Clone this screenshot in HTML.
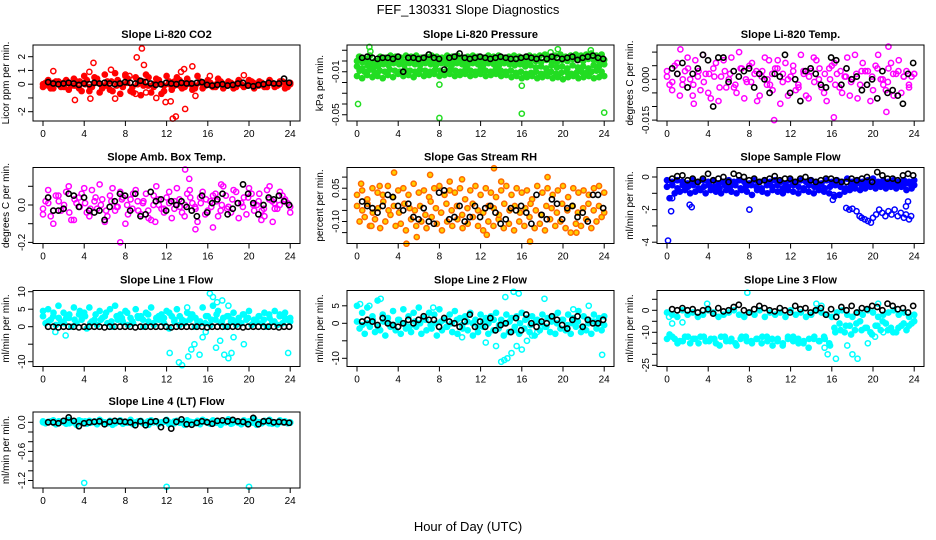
<!DOCTYPE html>
<html><head><meta charset="utf-8"><style>
body{margin:0;background:#fff}
svg{display:block;font-family:"Liberation Sans",sans-serif}
</style></head><body>
<svg id="chart" width="936" height="540" viewBox="0 0 936 540" xmlns="http://www.w3.org/2000/svg">
<rect width="936" height="540" fill="#fff"/>
<text x="468" y="14" text-anchor="middle" font-size="13">FEF_130331  Slope Diagnostics</text>
<text x="468" y="531" text-anchor="middle" font-size="13">Hour of Day (UTC)</text>
</svg>
<script>
// ---- shared x ticks ----
const xTicks = [0,4,8,12,16,20,24];

// ---- Panel 1: CO2 ----
const co2BandA = [-0.2,0.3,-0.3,0.2,0.1,-0.4,0.4,-0.3,0.6,-0.5,0.5,-0.6,0.7,-0.4,0.8,-0.7,0.6,-0.5,0.5,-0.8,0.7,-0.6,0.4,-0.7,0.6,-0.4,0.5,-0.3,0.4,-0.4,0.6,-0.3,0.3,-0.2,0.4,-0.3,0.2,-0.3,0.3,-0.2,0.3,-0.3,0.2,-0.2,0.3,-0.2,0.2,-0.3,0.1];
const co2BandB = [0.1,-0.3,0.2,-0.2,0.3,-0.1,0.2,-0.5,0.3,-0.2,0.4,-0.3,0.2,-0.5,0.3,-0.2,0.4,-0.6,0.3,-0.1,0.5,-0.2,0.3,-0.5,0.2,-0.1,0.3,-0.2,0.1,-0.3,0.2,-0.1,0.1,-0.2,0.2,-0.1,0.1,-0.2,0.0,-0.1,0.2,-0.1,0.1,-0.2,0.1,-0.1,0.2,-0.2];
const co2BandC = [0.0,-0.1,0.1,0.0,-0.2,0.1,-0.1,0.2,0.0,-0.2,0.1,0.0,-0.1,0.2,-0.1,0.0,0.1,-0.2,0.0,0.2,-0.1,0.0,0.1,-0.1,0.0,0.2,-0.1,0.1,0.0,-0.1,0.1,0.0,-0.1,0.0,0.1,-0.1,0.0,0.1,-0.1,0.0,0.1,-0.1,0.0,0.1,-0.1,0.0,0.1,0.0];
const co2Out = [[1,0.95],[3.1,-1.15],[4.5,0.9],[4.6,-1.05],[4.9,1.55],[6.6,1.05],[7,-1.05],[8.4,0.6],[9.1,1.95],[9.6,2.6],[9.8,1.4],[11,-1],[11.9,-1.3],[12.4,-1.25],[12.6,-2.5],[12.9,-2.35],[13.4,0.9],[13.7,1.1],[13.8,-1.8],[14.5,1.3],[14.8,-0.85],[16.2,0.6],[19.5,0.65],[9,-0.7],[10,-0.6],[8,0.7]];
const co2Ref = [0.15,0.05,0.0,0.05,0.1,0.05,-0.05,0.05,0.0,0.1,0.05,0.1,0.05,0.0,0.05,0.15,0.1,0.05,0.25,0.15,0.05,-0.05,0.0,0.1,0.05,0.0,0.1,0.05,0.05,0.1,0.15,-0.05,-0.1,-0.05,0.0,-0.1,-0.05,0.05,0.1,-0.1,-0.15,-0.05,0.0,0.1,0.05,0.05,0.4,0.1];

// ---- Panel 2: Pressure ----
const presBandA = [-0.014,-0.016,-0.013,-0.015,-0.014,-0.016,-0.013,-0.015,-0.012,-0.014,-0.013,-0.015,-0.012,-0.014,-0.013,-0.012,-0.014,-0.013,-0.012,-0.014,-0.013,-0.012,-0.014,-0.013,-0.012,-0.014,-0.013,-0.012,-0.014,-0.013,-0.015,-0.014,-0.016,-0.015,-0.014,-0.016,-0.015,-0.014,-0.016,-0.015,-0.017,-0.015,-0.014,-0.016,-0.015,-0.014,-0.016,-0.015,-0.014];
const presBandB = [0.004,0.002,0.005,0.000,0.004,0.003,0.005,0.004,0.003,0.005,0.004,0.005,0.003,0.004,0.005,0.004,0.003,0.005,0.004,0.005,0.003,0.004,0.005,0.004,0.003,0.005,0.004,0.005,0.003,0.004,0.005,0.004,0.003,0.005,0.004,0.005,0.006,0.004,0.005,0.006,0.004,0.005,0.006,0.005,0.006,0.007,0.005,0.006];
const presBandC = [-0.005,-0.007,-0.004,-0.006,-0.005,-0.003,-0.004,-0.002,-0.003,-0.004,-0.002,-0.003,-0.004,-0.002,-0.003,-0.004,-0.002,-0.003,-0.004,-0.002,-0.003,-0.004,-0.002,-0.003,-0.004,-0.002,-0.003,-0.004,-0.002,-0.003,-0.004,-0.003,-0.005,-0.004,-0.006,-0.005,-0.007,-0.004,-0.006,-0.005,-0.007,-0.004,-0.006,-0.005,-0.007,-0.004,-0.005,-0.003];
const presBandD = [-0.009,-0.010,-0.008,-0.011,-0.009,-0.010,-0.008,-0.009,-0.010,-0.008,-0.009,-0.010,-0.008,-0.009,-0.010,-0.008,-0.009,-0.010,-0.008,-0.009,-0.010,-0.008,-0.009,-0.010,-0.008,-0.009,-0.010,-0.008,-0.009,-0.010,-0.009,-0.011,-0.010,-0.012,-0.011,-0.010,-0.012,-0.011,-0.010,-0.012,-0.011,-0.010,-0.012,-0.011,-0.010,-0.011,-0.010,-0.009,-0.010];
const presBandE = [0.000,-0.001,0.001,-0.002,0.000,0.001,-0.001,0.000,0.001,-0.001,0.000,0.001,-0.001,0.000,0.001,-0.001,0.000,0.001,-0.001,0.000,0.001,-0.001,0.000,0.001,-0.001,0.000,0.001,-0.001,0.000,0.001,-0.001,0.000,-0.001,0.001,0.000,-0.001,0.001,0.000,-0.001,0.001,0.000,0.002,0.001,0.000,0.002,0.001,0.000,0.001];
const presOut = [[0.1,-0.04],[8,-0.022],[8,-0.053],[16,-0.049],[16,-0.023],[24,-0.048],[1.2,0.013],[1.3,0.009],[0.2,0.004],[2,-0.009],[18.8,0.008],[19.5,0.011],[22.7,0.01]];
const presRef = [0.003,0.004,0.003,0.002,0.003,0.003,0.002,0.004,-0.010,0.003,0.003,0.002,0.003,0.006,0.003,0.002,-0.008,0.003,0.004,0.007,0.003,0.002,0.003,0.004,0.003,0.002,0.003,0.004,0.003,0.002,0.002,0.003,0.004,0.003,0.002,0.003,0.002,0.004,0.003,0.002,0.003,0.004,0.001,0.003,0.004,0.005,0.003,0.002];

// ---- Panel 3: Li-820 Temp ----
const tempBandA = [0.003,-0.004,0.006,-0.002,0.008,-0.006,0.001,0.009,-0.005,0.004,-0.008,0.007,0.000,-0.003,0.010,-0.007,0.005,0.002,-0.006,0.008,-0.002,0.004,-0.009,0.006,0.001,-0.004,0.009,-0.006,0.003,0.007,-0.003,-0.008,0.005,0.002,-0.005,0.008,0.000,-0.007,0.006,0.003,-0.004,0.009,-0.002,0.004,-0.006,0.007,0.001,-0.003,0.002];
const tempBandB = [-0.002,0.005,-0.006,0.003,0.000,0.007,-0.004,0.002,-0.007,0.006,0.001,-0.003,0.008,-0.005,0.004,-0.001,0.006,-0.008,0.003,0.000,-0.004,0.007,0.002,-0.006,0.005,-0.002,0.003,-0.007,0.008,0.000,-0.005,0.004,0.006,-0.003,0.001,-0.006,0.009,-0.002,0.003,-0.008,0.005,0.000,-0.004,0.006,0.002,-0.005,0.003,0.001];
const tempBandC = [0.001,-0.001,0.002,0.000,0.004,-0.002,0.003,-0.001,0.002,0.001,-0.003,0.003,0.002,-0.002,0.004,0.000,-0.001,0.003,0.001,-0.002,0.002,0.004,-0.001,0.000,0.003,-0.003,0.002,0.001,-0.001,0.004,0.002,0.000,-0.002,0.003,0.001,-0.001,0.002,0.003,-0.002,0.001,0.004,0.000,-0.001,0.002,0.003,0.001,-0.002,0.002];
const tempOut = [[1.3,0.011],[10.4,-0.015],[16.2,-0.014],[21.5,0.012],[21.3,-0.012],[2.6,-0.009],[9.9,0.007]];
const tempRef = [0.004,0.002,0.006,-0.003,0.002,0.004,0.009,0.007,-0.010,0.008,0.008,-0.001,0.003,0.001,0.003,0.004,-0.003,0.002,0.000,-0.005,0.002,0.001,0.009,-0.005,0.000,-0.008,0.003,0.004,0.002,-0.002,-0.003,0.008,0.007,-0.002,0.004,0.000,0.001,-0.004,-0.002,0.000,-0.007,0.003,-0.005,-0.004,-0.006,-0.009,0.002,0.006];

// ---- Panel 4: Amb. Box Temp ----
const ambBandA = [-0.05,0.08,-0.1,0.05,-0.02,0.1,-0.08,0.04,0.09,-0.06,0.02,0.11,-0.09,0.05,-0.03,0.07,-0.1,0.03,0.08,-0.05,0.06,-0.08,0.1,-0.02,0.04,-0.07,0.09,-0.04,0.06,0.01,-0.09,0.07,-0.03,0.05,-0.06,0.1,-0.01,0.08,-0.07,0.04,0.09,-0.03,0.06,-0.06,0.1,-0.02,0.07,0.03,-0.04];
const ambBandB = [0.02,-0.06,0.05,-0.03,0.07,-0.08,0.01,0.06,-0.04,0.08,-0.02,0.03,-0.06,0.09,-0.01,0.04,-0.05,0.06,-0.03,0.02,-0.07,0.05,0.00,-0.04,0.07,-0.02,0.03,-0.06,0.08,-0.01,0.04,-0.05,0.02,0.06,-0.03,0.05,-0.04,0.07,0.01,-0.05,0.06,0.00,-0.03,0.08,0.02,-0.02,0.05,0.01];
const ambBandC = [-0.02,0.01,-0.03,0.02,0.00,-0.04,0.03,-0.01,0.01,-0.02,0.04,0.00,-0.03,0.02,-0.01,0.03,0.00,-0.02,0.02,0.01,-0.03,0.00,0.03,-0.02,0.01,0.02,-0.01,0.00,0.04,-0.02,0.01,0.03,-0.01,0.02,0.00,-0.02,0.03,0.01,-0.01,0.04,0.00,0.02,-0.02,0.03,0.01,0.00,0.02,-0.01];
const ambOut = [[7.5,-0.2],[13.8,0.19],[14.2,0.14],[14.8,-0.13],[16.5,-0.12],[10.9,-0.09],[17.3,0.11],[21.2,-0.08],[22.3,-0.09]];
const ambRef = [0.04,-0.03,-0.03,-0.02,0.06,0.05,-0.01,0.04,-0.03,-0.04,-0.03,-0.08,-0.01,0.02,0.06,0.05,-0.03,0.06,-0.06,-0.05,0.07,0.02,0.03,-0.03,0.02,0.00,0.02,-0.01,-0.03,-0.06,0.05,-0.04,0.01,0.03,0.06,-0.05,-0.02,0.01,0.11,0.06,0.01,-0.05,0.00,0.04,0.03,0.05,0.02,0.00];

// ---- Panel 5: Gas Stream RH ----
const rhBandA = [0.02,0.04,0.0,0.05,0.03,0.02,0.06,0.01,0.04,0.05,0.02,0.07,0.03,0.04,0.01,0.05,0.06,0.02,0.04,0.03,0.05,0.0,0.04,0.06,0.02,0.05,0.03,0.01,0.04,0.06,0.02,0.05,0.03,0.04,0.00,0.06,0.03,0.05,0.02,0.04,0.06,0.01,0.05,0.03,0.04,0.02,0.05,0.06,0.03];
const rhBandB = [-0.1,-0.08,-0.12,-0.09,-0.13,-0.1,-0.07,-0.12,-0.11,-0.14,-0.09,-0.12,-0.1,-0.13,-0.08,-0.11,-0.14,-0.1,-0.12,-0.09,-0.13,-0.11,-0.08,-0.12,-0.14,-0.1,-0.12,-0.09,-0.13,-0.11,-0.14,-0.1,-0.12,-0.08,-0.13,-0.11,-0.14,-0.09,-0.12,-0.1,-0.13,-0.15,-0.11,-0.12,-0.09,-0.13,-0.1,-0.08];
const rhBandC = [-0.03,-0.05,-0.02,-0.06,-0.04,-0.01,-0.05,-0.03,-0.06,-0.02,-0.04,-0.05,-0.03,-0.07,-0.01,-0.04,-0.06,-0.02,-0.05,-0.03,-0.07,-0.04,-0.02,-0.05,-0.06,-0.03,-0.04,-0.07,-0.02,-0.05,-0.03,-0.06,-0.04,-0.02,-0.05,-0.07,-0.03,-0.04,-0.06,-0.02,-0.05,-0.03,-0.06,-0.04,-0.02,-0.05,-0.03,-0.06];
const rhOut = [[0.4,0.07],[1.4,-0.12],[2.2,0.06],[3.6,0.12],[4.8,-0.2],[5.8,-0.17],[7.1,0.11],[9,0.08],[10.2,0.09],[13.3,0.14],[14,0.08],[16.8,-0.19],[18.5,0.1],[12.6,-0.16],[21.3,-0.15]];
const rhRef = [-0.01,-0.03,-0.04,-0.06,-0.03,0.02,0.01,-0.03,-0.05,-0.02,-0.08,-0.09,-0.04,-0.10,-0.11,0.03,0.04,-0.09,-0.08,-0.03,-0.10,-0.08,-0.03,-0.08,-0.04,-0.03,-0.06,-0.11,-0.09,-0.04,-0.05,-0.03,-0.06,-0.11,0.02,-0.07,-0.09,0.00,-0.02,-0.09,-0.04,-0.03,-0.08,-0.06,-0.10,0.02,0.02,-0.04];

// ---- Panel 6: Sample Flow ----
const sfBandA = [-0.2,-0.3,-0.2,-0.3,-0.4,-0.2,-0.3,-0.2,-0.3,-0.2,-0.4,-0.3,-0.2,-0.3,-0.2,-0.3,-0.4,-0.2,-0.3,-0.2,-0.3,-0.2,-0.3,-0.4,-0.2,-0.3,-0.2,-0.3,-0.2,-0.3,-0.4,-0.2,-0.3,-0.2,-0.3,-0.1,-0.3,-0.2,-0.3,-0.2,-0.1,-0.3,-0.2,-0.3,-0.2,-0.3,-0.2,-0.3,-0.2];
const sfBandB = [-1.3,-1.0,-0.9,-0.8,-1.0,-0.9,-0.8,-1.0,-0.8,-0.9,-1.0,-0.8,-0.9,-1.0,-0.8,-0.9,-1.1,-0.8,-0.9,-1.0,-0.8,-0.9,-1.0,-0.8,-0.9,-1.0,-0.8,-0.9,-1.0,-0.8,-0.9,-1.0,-1.2,-1.1,-0.9,-0.8,-0.7,-0.8,-0.7,-0.6,-0.7,-0.6,-0.7,-0.6,-0.7,-0.6,-0.8,-0.7];
const sfBandC = [-0.6,-0.5,-0.7,-0.5,-0.6,-0.5,-0.7,-0.6,-0.5,-0.6,-0.7,-0.5,-0.6,-0.5,-0.7,-0.6,-0.5,-0.6,-0.7,-0.5,-0.6,-0.5,-0.7,-0.6,-0.5,-0.6,-0.7,-0.5,-0.6,-0.5,-0.7,-0.6,-0.5,-0.6,-0.7,-0.5,-0.4,-0.5,-0.4,-0.5,-0.4,-0.5,-0.4,-0.5,-0.4,-0.5,-0.4,-0.5];
const sfOut = [[0.1,-3.9],[0.4,-2.1],[0.5,-1.3],[2.2,-1.7],[2.4,-1.85],[8,-2.0],[16.1,-1.4],[16.2,-1.1],[17.4,-1.9],[17.7,-2.0],[18,-1.95],[18.4,-2.1],[18.7,-2.4],[18.9,-2.5],[19.2,-2.6],[19.5,-2.7],[19.8,-2.8],[20,-2.5],[20.3,-2.3],[20.6,-2.0],[20.9,-2.2],[21.2,-2.4],[21.5,-2.1],[21.8,-2.3],[22.1,-2.0],[22.4,-2.4],[22.7,-2.2],[23,-2.5],[23.2,-2.3],[23.5,-2.6],[23.7,-2.4],[23.4,-1.5],[23.2,-1.8]];
const sfRef = [-0.1,0.05,0.1,-0.2,-0.1,-0.3,-0.1,0.2,-0.2,-0.1,0.0,-0.3,0.2,0.1,0.0,-0.2,-0.1,-0.3,-0.2,-0.1,0.05,-0.2,-0.1,-0.1,-0.3,-0.1,0.0,-0.2,-0.3,-0.2,-0.1,-0.1,-0.2,-0.3,-0.3,-0.1,-0.2,-0.1,0.0,-0.3,0.3,0.1,-0.1,-0.1,-0.2,0.1,0.2,0.1];

// ---- Panel 7: Line 1 Flow ----
const l1BandA = [4.5,5.0,3.0,6.0,4.0,2.5,5.5,3.5,4.0,5.5,2.0,4.5,3.0,5.0,6.0,3.5,4.5,2.5,5.0,3.0,4.0,5.5,2.5,3.5,4.5,3.0,5.0,2.0,4.0,3.5,1.5,5.5,3.0,6.0,4.5,2.5,3.0,4.0,2.5,3.5,4.5,2.0,3.0,4.0,2.5,4.5,3.5,4.0,2.5];
const l1BandB = [1.0,2.0,0.5,1.5,2.5,0.0,1.0,2.0,-0.5,1.5,0.5,2.5,1.0,0.0,2.0,1.5,0.5,1.0,2.5,0.0,1.5,0.5,2.0,1.0,-0.5,1.5,0.5,1.0,2.0,0.0,1.5,1.0,0.5,2.0,1.0,0.0,1.5,0.5,1.0,2.0,0.5,1.5,1.0,0.0,1.5,0.5,1.0,2.0];
const l1BandC = [3.0,1.5,4.0,2.5,1.0,3.5,2.0,4.5,3.0,1.0,3.5,2.0,4.0,1.5,3.0,2.5,4.0,1.5,3.0,2.0,3.5,1.0,3.0,2.5,4.0,2.0,3.0,1.5,3.5,2.5,1.0,3.0,2.0,3.5,1.5,3.0,2.0,1.5,3.5,2.5,1.0,3.0,2.0,3.5,1.5,3.0,2.5,1.5];
const l1Out = [[2.2,-2.5],[1.2,-1.5],[12.3,-7.5],[13.2,-10.2],[13.5,-11],[14.1,-8.5],[14.4,-6.5],[14,5.5],[14.7,-5],[15.2,-8],[15.5,-3],[16.2,9.5],[16.5,8.5],[16.9,7],[17.2,-4],[17.6,-8],[18,-9],[18.3,-7.5],[18.5,-3],[19.5,-5],[17.4,7.5],[18,6],[23.8,-7.5],[15.8,-1.5],[16.8,-6]];
const l1Ref = [0,0,-0.2,0,0,0,-0.2,0,0,0,0,-0.2,0,0,0,0,0,-0.2,0,0,0,0,0,0,-0.2,0,0,0,0,0,0,-0.2,0,0,0,0,0,0,-0.2,0,0,0,0,0,0,-0.2,0,0];

// ---- Panel 8: Line 2 Flow ----
const l2BandA = [5.0,3.0,4.5,2.0,6.5,2.5,1.5,3.5,1.0,4.0,2.0,3.0,4.5,1.5,3.0,2.5,4.0,1.0,2.5,3.5,1.5,2.0,3.0,1.0,2.5,1.5,2.0,3.0,1.0,2.5,1.5,2.0,3.0,1.5,2.0,1.0,2.5,1.5,2.0,3.0,1.0,2.5,1.5,3.5,2.0,1.0,2.5,1.5,2.0];
const l2BandB = [-1.5,-3.0,-1.0,-2.5,-2.0,-3.5,-1.0,-2.0,-3.0,-1.5,-2.5,-1.0,-3.0,-2.0,-1.5,-3.5,-2.0,-1.0,-2.5,-3.0,-1.5,-2.0,-3.5,-2.5,-1.0,-3.0,-2.0,-1.5,-3.5,-2.5,-2.0,-3.0,-1.5,-2.5,-3.5,-2.0,-1.0,-2.5,-3.0,-1.5,-2.0,-3.0,-1.0,-2.5,-2.0,-3.0,-1.5,-2.0];
const l2BandC = [0.5,-0.5,0,1,-1,0.5,0,-0.5,1,0,-1,0.5,0,1,-0.5,0,0.5,-1,0,1,-0.5,0.5,0,-1,0.5,0,1,-0.5,0,0.5,-1,0,1,-0.5,0.5,0,-1,0.5,0,1,-0.5,0,0.5,-1,0,0.5,0,-0.5];
const l2Out = [[14.4,7.5],[15.2,9],[15.7,8.5],[18.2,7],[13.5,-6.5],[14,-11],[14.3,-10.5],[14.6,-10],[15,-8.5],[15.5,-6.5],[16,-7.5],[16.5,-5],[12.5,-5.5],[17,-3.5],[23.8,-9],[22.5,5],[21,4],[17.5,-2.5],[7.4,4.5],[10.2,-4],[0.3,5.5],[1.2,5],[2.3,7]];
const l2Ref = [0.5,1,0.5,-0.5,1.5,0,-0.5,-1,0,1,0,1,2,1,1,-1,1.5,0.5,0,-1,0.5,2.5,-1,0.5,-1,1.5,-2,-0.5,0,-2.5,1.5,-2,2.5,0,-1,0.5,0,2,1,-0.5,-1.5,1,2,-1,1,0,0,1];

// ---- Panel 9: Line 3 Flow ----
const l3BandA = [-1,-2,-3,0,-2,-1,-3,-2,0,-1,-3,-2,-1,0,-2,-3,-1,-2,0,-3,-1,-2,-1,-3,0,-2,-1,-3,-2,0,-1,-2,-3,-1,0,-2,-3,-1,-2,0,-1,-3,-2,-1,0,-2,-1,-3,-2];
const l3BandB = [-11,-13,-14,-12,-15,-13,-12,-14,-13,-15,-12,-14,-13,-16,-12,-14,-15,-13,-12,-14,-16,-13,-15,-12,-14,-13,-15,-17,-13,-14,-12,-15,-8,-6,-10,-7,-9,-5,-8,-10,-7,-9,-6,-8,-10,-7,-9,-6];
const l3BandC = [-13,-12,-15,-14,-12,-13,-15,-12,-14,-13,-16,-12,-14,-15,-13,-12,-14,-13,-15,-12,-13,-14,-16,-13,-12,-15,-14,-13,-12,-14,-13,-16,-10,-9,-7,-11,-6,-9,-8,-11,-7,-5,-9,-10,-8,-6,-7,-5];
const l3Out = [[0.2,-3],[0.5,-6],[1.5,-5.5],[7.8,8],[3.9,3],[15.3,-17],[15.6,-20],[16.4,-22],[17.5,-16],[18,-20],[18.5,-22],[19.5,-15],[20.2,-12],[21,-10],[14.5,3],[15,2],[20.5,3],[23.9,-3]];
const l3Ref = [0.5,0,1,0,0.5,-1,0,0.5,-1.5,1,-0.5,0,1.5,2.5,0,-1,0.5,2,1,0,-0.5,1,0,-1,2,0.5,1,-1,0,1,-2,0.5,-3,1.5,0,2,-1,1,0.5,2,1.5,0,3,2,0.5,1,-1,2];

// ---- Panel 10: Line 4 (LT) Flow ----
const l4BandA = [0.02,0.0,0.04,-0.02,0.03,0.05,0.0,0.04,-0.01,0.03,0.02,0.05,0.0,0.03,-0.02,0.04,0.01,0.05,0.0,0.03,-0.01,0.04,0.02,0.0,0.05,-0.02,0.03,0.01,0.04,0.0,0.03,0.05,-0.01,0.04,0.02,0.0,0.06,0.03,-0.01,0.04,0.02,0.07,0.0,0.03,0.05,-0.01,0.04,0.02,0.0];
const l4BandB = [-0.02,0.02,-0.04,0.01,-0.03,0.0,-0.05,0.02,-0.03,0.0,-0.04,0.01,-0.02,-0.05,0.01,-0.03,0.0,-0.04,0.02,-0.02,-0.05,0.0,-0.03,0.01,-0.04,-0.02,0.01,-0.05,-0.02,0.0,-0.04,0.01,-0.03,-0.01,-0.05,0.0,-0.03,0.01,-0.04,-0.02,0.0,-0.05,-0.02,0.01,-0.03,-0.04,0.0,-0.02];
const l4BandC = [0.0,0.01,-0.01,0.02,0.0,-0.02,0.01,0.0,0.02,-0.01,0.0,0.01,-0.02,0.0,0.02,0.01,-0.01,0.0,0.01,-0.02,0.02,0.0,-0.01,0.01,0.0,0.02,-0.01,0.0,0.01,-0.02,0.0,0.02,0.01,-0.01,0.0,0.01,-0.02,0.0,0.02,0.01,-0.01,0.0,0.01,-0.02,0.0,0.01,0.0,-0.01];
const l4Out = [[4,-1.25],[12,-1.33],[20,-1.33]];
const l4Ref = [0.0,0.0,-0.02,0.03,0.1,0.03,-0.08,-0.02,0.0,0.01,0.02,-0.04,0.01,0.03,0.02,0.01,0.0,-0.06,0.02,-0.06,0.01,0.02,-0.1,0.04,-0.13,0.01,0.06,-0.04,-0.05,-0.01,0.02,0.0,-0.03,0.03,0.04,0.02,0.05,0.02,0.01,-0.04,0.09,-0.04,0.02,0.03,0.0,0.01,0.0,-0.01];

// ---- y tick values / labels ----
const co2YTicks = [2,1,0,-1,-2]; const co2YLabels = ["2","1","0","","-2"];
const presYTicks = [0.01,0,-0.01,-0.02,-0.03,-0.04,-0.05]; const presYLabels = ["","","-0.01","","","","-0.05"];
const tempYTicks = [0.01,0.005,0,-0.005,-0.01,-0.015]; const tempYLabels = ["","","0.000","","","-0.015"];
const ambYTicks = [0.1,0,-0.1,-0.2]; const ambYLabels = ["","0.0","","-0.2"];
const rhYTicks = [0.1,0.05,0,-0.05,-0.1,-0.15]; const rhYLabels = ["","0.05","","","-0.10",""];
const sfYTicks = [0,-1,-2,-3,-4]; const sfYLabels = ["0","","-2","","-4"];
const l1YTicks = [10,5,0,-5,-10]; const l1YLabels = ["10","5","0","","-10"];
const l2YTicks = [5,0,-5,-10]; const l2YLabels = ["5","0","","-10"];
const l3YTicks = [5,0,-5,-10,-15,-20,-25]; const l3YLabels = ["","0","","-10","","","-25"];
const l4YTicks = [0,-0.2,-0.4,-0.6,-0.8,-1.0,-1.2]; const l4YLabels = ["0.0","","","-0.6","","","-1.2"];

const NS = "http://www.w3.org/2000/svg";
const svg = document.getElementById("chart");
function mk(tag, attrs, parent){ const e=document.createElementNS(NS,tag); for(const k in attrs) e.setAttribute(k,attrs[k]); (parent||svg).appendChild(e); return e; }

const colL = [33,347,657], rowT = [45,167.5,290.5,412], PW = 267, PH = 76;
const panels = [
 {key:"co2",title:"Slope Li-820 CO2",ylab:"Licor ppm per min.",c:0,r:0,col:"#ff0000",fill:"#ff0000",y0:84.2,k:13.75,bands:[co2BandA,co2BandB,co2BandC],out:co2Out,ref:co2Ref,yt:co2YTicks,yl:co2YLabels},
 {key:"pressure",title:"Slope Li-820 Pressure",ylab:"kPa per min.",c:1,r:0,col:"#22dd22",fill:"#22dd22",y0:61,k:1075,bands:[presBandA,presBandB,presBandC,presBandD,presBandE],out:presOut,ref:presRef,yt:presYTicks,yl:presYLabels},
 {key:"li820-temp",title:"Slope Li-820 Temp.",ylab:"degrees C per min.",c:2,r:0,col:"#ff00ff",fill:"none",y0:79.3,k:2720,bands:[tempBandA,tempBandB,tempBandC],out:tempOut,ref:tempRef,yt:tempYTicks,yl:tempYLabels},
 {key:"amb-box-temp",title:"Slope Amb. Box Temp.",ylab:"degrees C per min.",c:0,r:1,col:"#ff00ff",fill:"none",y0:205,k:187,bands:[ambBandA,ambBandB,ambBandC],out:ambOut,ref:ambRef,yt:ambYTicks,yl:ambYLabels},
 {key:"gas-rh",title:"Slope Gas Stream RH",ylab:"percent per min.",c:1,r:1,col:"#ff6a00",fill:"#ffd000",y0:199.3,k:222,bands:[rhBandA,rhBandB,rhBandC],out:rhOut,ref:rhRef,yt:rhYTicks,yl:rhYLabels},
 {key:"sample-flow",title:"Slope Sample Flow",ylab:"ml/min per min.",c:2,r:1,col:"#0000ff",fill:"#0000ff",y0:177,k:16.3,bands:[sfBandA,sfBandB,sfBandC],out:sfOut,ref:sfRef,yt:sfYTicks,yl:sfYLabels},
 {key:"line1-flow",title:"Slope Line 1 Flow",ylab:"ml/min per min.",c:0,r:2,col:"#00ffff",fill:"#00ffff",y0:326.7,k:3.5,bands:[l1BandA,l1BandB,l1BandC],out:l1Out,ref:l1Ref,yt:l1YTicks,yl:l1YLabels},
 {key:"line2-flow",title:"Slope Line 2 Flow",ylab:"ml/min per min.",c:1,r:2,col:"#00ffff",fill:"#00ffff",y0:323.3,k:3.5,bands:[l2BandA,l2BandB,l2BandC],out:l2Out,ref:l2Ref,yt:l2YTicks,yl:l2YLabels},
 {key:"line3-flow",title:"Slope Line 3 Flow",ylab:"ml/min per min.",c:2,r:2,col:"#00ffff",fill:"#00ffff",y0:310.3,k:2.2,bands:[l3BandA,l3BandB,l3BandC],out:l3Out,ref:l3Ref,yt:l3YTicks,yl:l3YLabels},
 {key:"line4-flow",title:"Slope Line 4 (LT) Flow",ylab:"ml/min per min.",c:0,r:3,col:"#00ffff",fill:"#00ffff",y0:422.3,k:48.5,bands:[l4BandA,l4BandB,l4BandC],out:l4Out,ref:l4Ref,yt:l4YTicks,yl:l4YLabels}
];

panels.forEach(p=>{
  const L = colL[p.c], T = rowT[p.r], B = T+PH, R = L+PW;
  const xs = h => L+10 + h*10.3;
  const ys = v => p.y0 - v*p.k;
  const g = mk("g",{});
  
  
  const t = mk("text",{x:(L+R)/2,y:T-7,"text-anchor":"middle","font-size":"11","font-weight":"bold"},g);
  t.textContent = p.title;
  
  
  const yl = mk("text",{x:0,y:0,"text-anchor":"middle","font-size":"10",transform:`translate(${L-24},${(T+B)/2}) rotate(-90)`},g);
  yl.textContent = p.ylab;
  
  
  const pts = mk("g",{fill:p.fill,stroke:p.col,"stroke-width":"1.5"},g);
  
  
  p.bands.forEach((arr,bi)=>{
    const s = bi%2===1 ? 0.25 : 0, e = bi%2===1 ? 23.75 : 24;
    arr.forEach((v,i)=>{
      const h = s + i*(e-s)/(arr.length-1);
      const c = mk("circle",{cx:xs(h),cy:ys(v),r:2.6},pts);
      
      
    });
  });
  const outs = mk("g",{fill:p.fill==="#ffd000"?"#ffd000":"none",stroke:p.col,"stroke-width":"1.5"},g);
  
  
  p.out.forEach(d=>{
    const c = mk("circle",{cx:xs(d[0]),cy:ys(d[1]),r:2.6},outs);
    
    
  });
  const ref = mk("g",{fill:"none",stroke:"#000","stroke-width":"1.6"},g);
  
  
  p.ref.forEach((v,i)=>{
    const h = 0.5 + i*23.4/(p.ref.length-1);
    const c = mk("circle",{cx:xs(h),cy:ys(v),r:2.6},ref);
    
    
  });
  const box = mk("rect",{x:L,y:T,width:PW,height:PH,fill:"none",stroke:"#000","stroke-width":"1"},g);
  
  
  const xa = mk("g",{stroke:"#000","stroke-width":"1"},g);
  
  
  mk("line",{x1:xs(xTicks[0]),x2:xs(xTicks[xTicks.length-1]),y1:B,y2:B},xa);
  xTicks.forEach(h=>{
    mk("line",{x1:xs(h),x2:xs(h),y1:B,y2:B+5},xa);
    const tl = mk("text",{x:xs(h),y:B+16,"text-anchor":"middle","font-size":"10",stroke:"none",fill:"#000"},xa);
    tl.textContent = String(h);
    
    
  });
  const ya = mk("g",{stroke:"#000","stroke-width":"1"},g);
  
  
  mk("line",{x1:L,x2:L,y1:ys(p.yt[0]),y2:ys(p.yt[p.yt.length-1])},ya);
  p.yt.forEach((v,i)=>{
    mk("line",{x1:L-5,x2:L,y1:ys(v),y2:ys(v)},ya);
    if(p.yl[i]){
      const tl = mk("text",{x:0,y:0,"text-anchor":"middle","font-size":"10",stroke:"none",fill:"#000",transform:`translate(${L-8},${ys(v)}) rotate(-90)`},ya);
      tl.textContent = p.yl[i];
      
      
    }
  });
});
</script>
</body></html>
